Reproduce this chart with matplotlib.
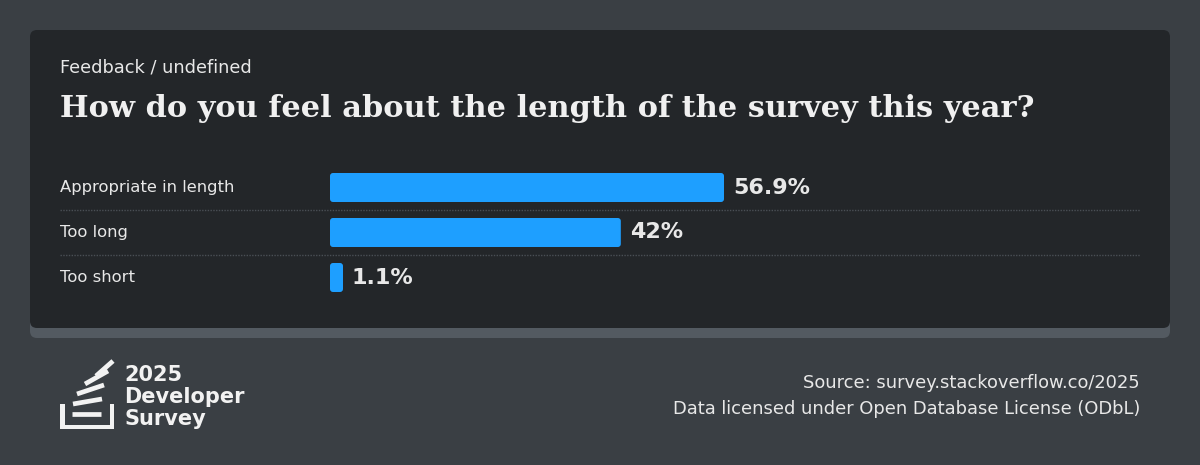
import matplotlib
matplotlib.use("Agg")
import matplotlib.pyplot as plt
from matplotlib.patches import FancyBboxPatch, Rectangle

# data
categories = ["Appropriate in length", "Too long", "Too short"]
values = [56.9, 42.0, 1.1]
value_labels = ["56.9%", "42%", "1.1%"]

subtitle = "Feedback / undefined"
title = "How do you feel about the length of the survey this year?"
source_lines = ["Source: survey.stackoverflow.co/2025",
                "Data licensed under Open Database License (ODbL)"]

W, H = 1200, 465
bg = "#3a3f44"
card = "#232629"
card_edge = "#535a61"
bar_color = "#1e9fff"
text_color = "#e8e8e8"

fig = plt.figure(figsize=(W / 100, H / 100), dpi=100, facecolor=bg)

# background decor layer in pixel coordinates
deco = fig.add_axes([0, 0, 1, 1])
deco.set_xlim(0, W)
deco.set_ylim(H, 0)
deco.axis("off")
deco.add_patch(FancyBboxPatch((30, 40), 1140, 298, boxstyle="round,pad=0,rounding_size=7",
                              fc=card_edge, ec="none"))
deco.add_patch(FancyBboxPatch((30, 30), 1140, 298, boxstyle="round,pad=0,rounding_size=7",
                              fc=card, ec="none"))

deco.text(60, 67, subtitle, color=text_color, fontsize=12.8, va="center", ha="left")
deco.text(60, 108, title, color="#f0f0f0", fontsize=21.9, fontweight="bold",
          family="DejaVu Serif", va="center", ha="left")

# footer
deco.text(1140, 383, source_lines[0], color=text_color, fontsize=12.9, ha="right", va="center")
deco.text(1140, 409, source_lines[1], color=text_color, fontsize=12.9, ha="right", va="center")

# logo (stack icon)
logo = "#f2f2f2"
deco.add_patch(Rectangle((60, 404), 4.5, 25, fc=logo, ec="none"))
deco.add_patch(Rectangle((60, 424.5), 54, 4.5, fc=logo, ec="none"))
deco.add_patch(Rectangle((109.5, 404), 4.5, 25, fc=logo, ec="none"))
sticks = [((72, 414), (101, 414)),
          ((73, 404), (102, 399)),
          ((77, 394), (104, 385)),
          ((85, 384), (108, 371)),
          ((96, 376), (113, 361))]
for (x0, y0), (x1, y1) in sticks:
    deco.plot([x0, x1], [y0, y1], color=logo, lw=3.4, solid_capstyle="butt")
for i, line in enumerate(["2025", "Developer", "Survey"]):
    deco.text(124, 375 + i * 22, line, color=logo, fontsize=15, fontweight="bold",
              va="center", ha="left")

# chart axes: spans x 60..1140 px, rows centered at 187, 232, 277
px_per_unit = (724 - 330) / values[0]
left_units = (330 - 60) / px_per_unit
right_units = (1140 - 330) / px_per_unit
ax = fig.add_axes([60 / W, 1 - 300 / H, 1080 / W, 135 / H])
ax.set_xlim(-left_units, right_units)
ax.set_ylim(len(categories) - 0.5, -0.5)
ax.axis("off")

bar_h = 29 / 45
min_w = 13 / px_per_unit  # minimum visible bar width
for i, (cat, v, lab) in enumerate(zip(categories, values, value_labels)):
    w = max(v, min_w)
    ax.add_patch(FancyBboxPatch((0, i - bar_h / 2), w, bar_h,
                                boxstyle="round,pad=0,rounding_size=%f" % (3 / px_per_unit),
                                mutation_aspect=px_per_unit / 45,
                                fc=bar_color, ec="none"))
    ax.text(w + 9 / px_per_unit, i, lab, color=text_color, fontsize=16, fontweight="bold",
            va="center", ha="left")
    ax.text(-left_units, i, cat, color=text_color, fontsize=11.8, va="center", ha="left")
    if i < len(categories) - 1:
        ax.plot([-left_units, right_units], [i + 0.5, i + 0.5], color="#4a4f55",
                lw=1, ls=(0, (1, 1)))

fig.savefig("out.png", dpi=100, facecolor=bg)
